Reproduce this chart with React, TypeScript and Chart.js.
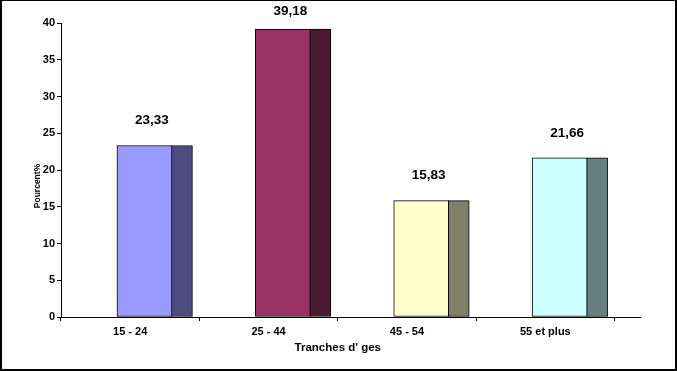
import React, { useEffect, useRef } from "react";
import { Chart, registerables } from "chart.js";

Chart.register(...registerables);

const categories = ["15 - 24", "25 - 44", "45 - 54", "55 et plus"];
const values = [23.33, 39.18, 15.83, 21.66];
const frontColors = ["#9999FF", "#993366", "#FFFFCC", "#CCFFFF"];
const sideColors = ["#4C4C80", "#4C1933", "#808066", "#668080"];
const yTicksMin = 0;
const yTicksMax = 40;
const yTicksStep = 5;
const xTitle = "Tranches d' ges";
const yTitle = "Pourcent%";

// style constants (in category units / pixels)
const FRONT_OFFSET = 0.603;
const SIDE_OFFSET = 0.874;
const X_MAX = 4.184;
const FONT = "'Liberation Sans', Arial, Helvetica, sans-serif";

const labelPlugin = {
  id: "labelsAndTitles",
  afterDatasetsDraw(chart: any) {
    const ctx = chart.ctx;
    const meta = chart.getDatasetMeta(0);
    ctx.save();
    ctx.fillStyle = "#000";
    ctx.font = `bold 13.5px ${FONT}`;
    ctx.textAlign = "center";
    ctx.textBaseline = "middle";
    meta.data.forEach((bar: any, i: number) => {
      const txt = values[i].toFixed(2).replace(".", ",");
      ctx.fillText(txt, bar.x + 7.5, Math.max(bar.y - 25, 11));
    });
    const area = chart.chartArea;
    const xs = chart.scales.x;
    // x title
    ctx.font = `bold 11.5px ${FONT}`;
    ctx.fillText(xTitle, xs.getPixelForValue(categories.length / 2), area.bottom + 31);
    // y title
    ctx.font = `bold 8.5px ${FONT}`;
    ctx.translate(37.5, (area.top + area.bottom) / 2 + 16);
    ctx.rotate(-Math.PI / 2);
    ctx.fillText(yTitle, 0, 0);
    ctx.restore();
  },
};

export default function App() {
  const ref = useRef<HTMLCanvasElement | null>(null);
  useEffect(() => {
    if (!ref.current) return;
    const tickFont = { family: FONT, size: 11, weight: "bold" as const };
    const chart = new Chart(ref.current, {
      type: "bar",
      data: {
        datasets: [
          {
            label: "front",
            data: values.map((v, i) => ({ x: i + FRONT_OFFSET, y: v })),
            backgroundColor: frontColors,
            borderColor: "#000",
            borderWidth: 1,
            barThickness: 55,
            grouped: false,
            borderSkipped: false,
          } as any,
          {
            label: "side",
            data: values.map((v, i) => ({ x: i + SIDE_OFFSET, y: v })),
            backgroundColor: sideColors,
            borderColor: "#000",
            borderWidth: 1,
            barThickness: 21,
            grouped: false,
            borderSkipped: false,
          } as any,
        ],
      },
      options: {
        responsive: false,
        animation: false,
        layout: { padding: { top: 23, right: 37, left: 0, bottom: 0 } },
        plugins: { legend: { display: false }, tooltip: { enabled: false } },
        scales: {
          x: {
            type: "linear",
            min: 0,
            max: X_MAX,
            offset: false,
            afterBuildTicks: (scale: any) => {
              scale.ticks = categories.map((_, i) => ({ value: i + 0.5 }));
            },
            afterFit: (scale: any) => {
              scale.height = 54;
            },
            ticks: {
              callback: (v: any) => categories[Math.floor(Number(v))] ?? "",
              font: tickFont,
              color: "#000",
              padding: 4,
              maxRotation: 0,
              autoSkip: false,
            },
            grid: {
              display: true,
              drawOnChartArea: false,
              drawTicks: true,
              tickLength: 4,
              color: "#000",
              offset: true,
            },
            border: { display: true, color: "#000", width: 1 },
          } as any,
          y: {
            type: "linear",
            min: yTicksMin,
            max: yTicksMax,
            afterFit: (scale: any) => {
              scale.width = 61;
            },
            ticks: { stepSize: yTicksStep, font: tickFont, color: "#000", padding: 2 },
            grid: {
              display: true,
              drawOnChartArea: false,
              drawTicks: true,
              tickLength: 4,
              color: "#000",
            },
            border: { display: true, color: "#000", width: 1 },
          } as any,
        },
      },
      plugins: [labelPlugin],
    });
    return () => chart.destroy();
  }, []);

  return (
    <div style={{ position: "absolute", left: 0, top: 0, width: 677, height: 371, background: "#fff" }}>
      <canvas ref={ref} width={677} height={371} style={{ display: "block", width: 677, height: 371 }} />
      <div
        style={{
          position: "absolute",
          left: 0,
          top: 0,
          width: 677,
          height: 371,
          boxSizing: "border-box",
          borderTop: "1px solid #000",
          borderLeft: "2px solid #000",
          borderRight: "2px solid #000",
          borderBottom: "2px solid #000",
          pointerEvents: "none",
        }}
      />
    </div>
  );
}
